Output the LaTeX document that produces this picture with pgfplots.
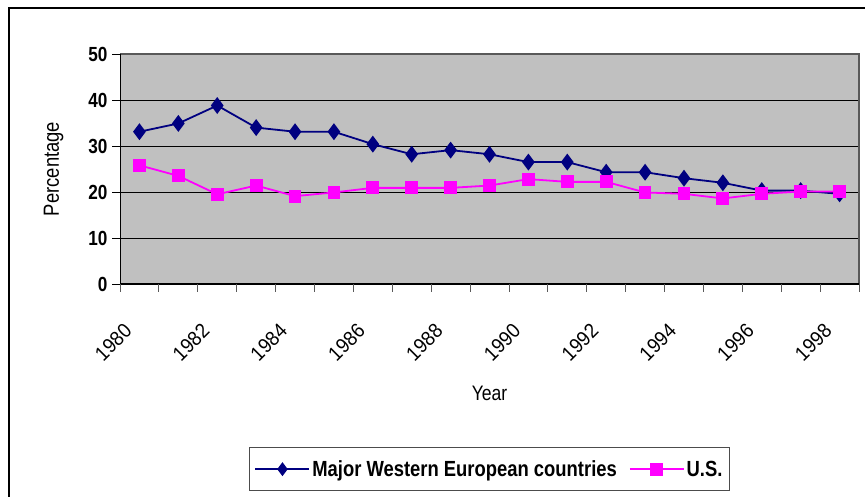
\documentclass[border=0pt]{standalone}
\usepackage{pgfplots}
\pgfplotsset{compat=1.18}
\usepackage{fontspec}
\setmainfont{Liberation Sans}[FakeStretch=0.84]
\newfontfamily\widefont{Liberation Sans}[FakeStretch=0.92]
\definecolor{plotbg}{RGB}{192,192,192}
\definecolor{navyline}{RGB}{0,0,128}
\definecolor{pinkline}{RGB}{255,0,255}
\begin{document}
\begin{tikzpicture}[x=1bp,y=1bp]
\clip (0,0) rectangle (865,497);
\useasboundingbox (0,0) rectangle (865,497);
\begin{axis}[
  at={(120bp,213bp)}, anchor=south west,
  width=739bp, height=230bp, scale only axis,
  xmin=-0.5, xmax=18.5, ymin=0, ymax=50,
  axis line style={draw=none},
  axis background/.style={fill=plotbg},
  ytick={0,10,20,30,40,50},
  ymajorgrids, grid style={black, line width=0.8bp},
  xtick={-0.5,0.5,...,18.5},
  xticklabels={},
  xtick style={gray!70!black, line width=0.8bp},
  extra x ticks={0,2,...,18},
  extra x tick labels={1980,1982,1984,1986,1988,1990,1992,1994,1996,1998},
  extra x tick style={tick style={draw=none}, grid=none},
  ytick style={black, line width=0.8bp},
  major tick length=8bp,
  tick align=outside,
  tick pos=left,
  /pgf/number format/assume math mode=true,
  yticklabel style={font=\fontsize{20.5}{22}\selectfont\bfseries, xshift=-1bp},
  xticklabel style={font=\widefont\fontsize{20.5}{22}\selectfont, xshift=-9bp, rotate=45, anchor=east},
  xticklabel shift=33bp,
  ylabel={Percentage},
  ylabel style={font=\fontsize{22}{24}\selectfont, at={(axis description cs:-0.090,0.5)}, anchor=center},
  xlabel={Year},
  xlabel style={font=\fontsize{21}{24}\selectfont, at={(axis description cs:0.5,-0.474)}, anchor=center},
  legend columns=2,
  legend style={at={(axis description cs:0.5,-0.709)}, anchor=north,
    draw=black!70, line width=0.8bp, fill=white,
    font=\fontsize{22}{24}\selectfont\bfseries,
    inner xsep=5bp, inner ysep=11bp,
    /tikz/every even column/.append style={column sep=10bp}},
  legend image code/.code={\draw[mark repeat=2,mark phase=2, mark size=5.5bp] plot coordinates {(0bp,0bp) (27bp,0bp) (54bp,0bp)};},
  clip=false,
]
\addplot[navyline, line width=1.8bp, mark=diamond*, mark size=7bp, mark options={solid, fill=navyline}]
coordinates {(0,33.1)(1,34.9)(2,38.8)(3,34.0)(4,33.1)(5,33.1)(6,30.4)(7,28.2)(8,29.1)(9,28.2)
(10,26.5)(11,26.5)(12,24.3)(13,24.3)(14,23.0)(15,22.0)(16,20.3)(17,20.3)(18,19.6)};
\addlegendentry{Major Western European countries}
\addplot[pinkline, line width=1.8bp, mark=square*, mark size=5.5bp, mark options={solid, fill=pinkline}]
coordinates {(0,25.8)(1,23.5)(2,19.5)(3,21.4)(4,19.1)(5,19.9)(6,20.9)(7,20.9)(8,20.9)(9,21.4)
(10,22.8)(11,22.2)(12,22.2)(13,19.9)(14,19.6)(15,18.6)(16,19.6)(17,20.1)(18,20.1)};
\addlegendentry{U.S.}
\draw[gray!70!black, line width=1.2bp] (rel axis cs:0,1) -- (rel axis cs:1,1) -- (rel axis cs:1,0);
\draw[black, line width=1bp] (rel axis cs:0,1) -- (rel axis cs:0,0) -- (rel axis cs:1,0);
\end{axis}
\draw[black, line width=2bp] (9,-20) -- (9,489) -- (900,489);
\end{tikzpicture}
\end{document}
